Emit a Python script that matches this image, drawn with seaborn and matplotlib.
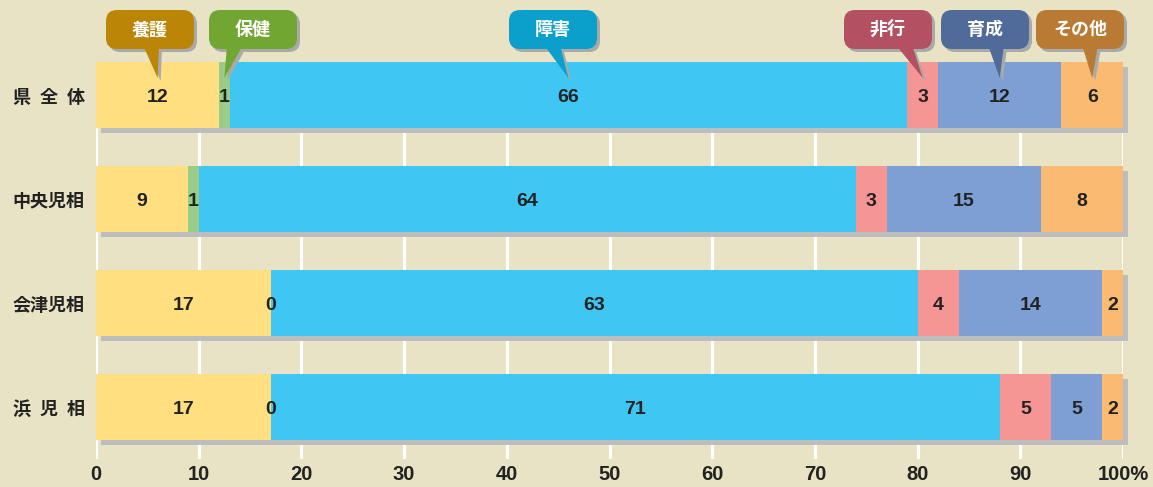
import numpy as np
import pandas as pd
import matplotlib
matplotlib.use("Agg")
import matplotlib.pyplot as plt
import seaborn as sns
from matplotlib.patches import FancyBboxPatch, Polygon
from matplotlib import transforms

# ---- data ----
categories = ["県\u2002全\u2002体", "中央児相", "会津児相", "浜\u2002児\u2002相"]
series_names = ["養護", "保健", "障害", "非行", "育成", "その他"]
yogo = [12, 9, 17, 17]
hoken = [1, 1, 0, 0]
shogai = [66, 64, 63, 71]
hiko = [3, 3, 4, 5]
ikusei = [12, 15, 14, 5]
sonota = [6, 8, 2, 2]
tick_values = [0, 10, 20, 30, 40, 50, 60, 70, 80, 90, 100]
tick_labels = ["0", "10", "20", "30", "40", "50", "60", "70", "80", "90", "100%"]

# ---- styles ----
bar_colors = ["#ffdf80", "#98cc88", "#40c6f2", "#f59695", "#7e9fd3", "#fbba72"]
callout_colors = ["#bb8508", "#72a633", "#0aa0cb", "#b35062", "#506a99", "#b97a34"]
bg = "#e8e3c4"
shadow = "#bdbdbd"

sns.set_style("white", {"axes.facecolor": bg, "figure.facecolor": bg})
plt.rcParams["font.family"] = ["Noto Sans CJK JP", "DejaVu Sans"]

W, H = 1153, 487
fig = plt.figure(figsize=(W / 100, H / 100), dpi=100)
fig.patch.set_facecolor(bg)
ax = fig.add_axes([96 / W, 28 / H, (1123 - 96) / W, (459 - 62) / H])
ax.set_facecolor(bg)

data = np.array([yogo, hoken, shogai, hiko, ikusei, sonota], dtype=float)
cum = np.cumsum(data, axis=0)
bw = 0.635

# shadow
n0 = len(ax.patches)
sns.barplot(x=cum[-1], y=categories, orient="h", color=shadow, width=bw,
            errorbar=None, linewidth=0, saturation=1, ax=ax)
off = transforms.ScaledTranslation(0.05, -0.05, fig.dpi_scale_trans)
for p in ax.patches[n0:]:
    p.set_transform(ax.transData + off)
    p.set_clip_on(False)

# stacked bars (drawn back to front)
for i in reversed(range(len(series_names))):
    sns.barplot(x=cum[i], y=categories, orient="h", color=bar_colors[i], width=bw,
                errorbar=None, linewidth=0, saturation=1, ax=ax)

# value labels
for i in range(len(series_names)):
    for r in range(len(categories)):
        v = data[i, r]
        left = cum[i, r] - v
        ax.text(left + v / 2, r, f"{int(v)}", ha="center", va="center_baseline",
                fontsize=14, fontweight="bold", color="#222222",
                family=["Liberation Sans", "DejaVu Sans"])

ax.set_xlim(0, 100)
ax.set_ylim(3.5, -bw / 2)
ax.set_xticks(tick_values)
ax.set_xticklabels(tick_labels, fontsize=14.5, fontweight="bold", color="#222222",
                   family=["Liberation Sans", "DejaVu Sans"])
ax.set_yticks(range(len(categories)))
ax.set_yticklabels(categories, fontsize=13, fontweight="bold", color="#222222")
ax.tick_params(axis="both", length=0)
ax.tick_params(axis="x", pad=4)
ax.tick_params(axis="y", pad=8)
ax.set_xlabel("")
ax.set_ylabel("")
for s in ax.spines.values():
    s.set_visible(False)
ax.set_axisbelow(True)
ax.grid(axis="x", color="white", linewidth=2.3)
ax.grid(axis="y", visible=False)

# ---- callouts ----
fig.canvas.draw()
ident = transforms.IdentityTransform()
box_cx = [150, 253, 553, 888, 985, 1080]
base_off = [1, -18, -1, 16, 11, 10]
box_w, box_h = 88, 39
box_top = H - 10
box_bot = box_top - box_h
tip_y = H - 78
for i, name in enumerate(series_names):
    seg_center = cum[i, 0] - data[i, 0] / 2
    tx = ax.transData.transform((seg_center, 0))[0]
    bc = box_cx[i] + base_off[i]
    for dx, dy, col, z in [(3, -3, "#a9a9a9", 5), (0, 0, callout_colors[i], 6)]:
        box = FancyBboxPatch((box_cx[i] - box_w / 2 + dx, box_bot + dy), box_w, box_h,
                             boxstyle="round,pad=0,rounding_size=11",
                             facecolor=col, edgecolor="none", transform=ident, zorder=z)
        tail = Polygon([(bc - 8 + dx, box_bot + 4 + dy), (bc + 8 + dx, box_bot + 4 + dy),
                        (tx + dx, tip_y + dy)], closed=True,
                       facecolor=col, edgecolor="none", transform=ident, zorder=z)
        fig.add_artist(box)
        fig.add_artist(tail)
    fig.text(box_cx[i], box_bot + box_h / 2, name, transform=ident, ha="center",
             va="center", fontsize=13, fontweight="bold", color="white", zorder=7)

fig.savefig("out.png", dpi=100, facecolor=bg)
